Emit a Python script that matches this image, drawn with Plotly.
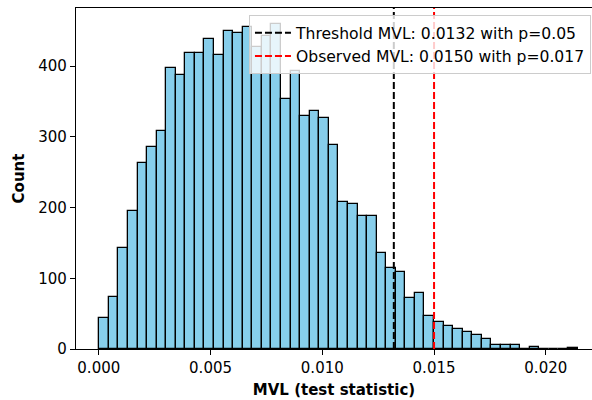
import plotly.graph_objects as go

# Histogram data (50 equal-width bins)
bin_start = 0.00002
bin_width = 0.000428
counts = [44, 73, 143, 195, 263, 285, 308, 397, 388, 418,
          418, 438, 416, 449, 446, 455, 427, 442, 459, 353,
          393, 330, 337, 327, 289, 208, 205, 188, 188, 135,
          115, 109, 72, 79, 46, 38, 33, 28, 24, 20,
          14, 5, 6, 6, 0, 3, 0, 0, 0, 2]

threshold_mvl = 0.0132
threshold_p = 0.05
observed_mvl = 0.0150
observed_p = 0.017

x_ticks = [0.000, 0.005, 0.010, 0.015, 0.020]
y_ticks = [0, 100, 200, 300, 400]

centers = [bin_start + (i + 0.5) * bin_width for i in range(len(counts))]
y_top = 482

fig = go.Figure()
fig.add_trace(go.Bar(
    x=centers, y=counts, width=bin_width,
    marker=dict(color="#87CEEB", line=dict(color="black", width=1.3)),
    showlegend=False, hoverinfo="skip",
))
fig.add_trace(go.Scatter(
    x=[threshold_mvl, threshold_mvl], y=[0, y_top], mode="lines",
    line=dict(color="black", width=2, dash="7px,3px"),
    name=f"Threshold MVL: {threshold_mvl:.4f} with p={threshold_p}",
))
fig.add_trace(go.Scatter(
    x=[observed_mvl, observed_mvl], y=[0, y_top], mode="lines",
    line=dict(color="red", width=2, dash="7px,3px"),
    name=f"Observed MVL: {observed_mvl:.4f} with p={observed_p}",
))

font_family = "DejaVu Sans"
fig.update_layout(
    width=592, height=400,
    margin=dict(l=76, r=0, t=8, b=51),
    plot_bgcolor="white", paper_bgcolor="white",
    bargap=0,
    font=dict(family=font_family, size=15, color="black"),
    legend=dict(
        x=0.998, xanchor="right", y=0.979, yanchor="top",
        bgcolor="rgba(255,255,255,0.8)", bordercolor="#cccccc", borderwidth=1,
        font=dict(family=font_family, size=15.6, color="black"),
        tracegroupgap=0, itemwidth=36,
    ),
    xaxis=dict(
        range=[-0.00102, 0.022067],
        tickvals=x_ticks, tickformat=".3f",
        ticks="outside", ticklen=5, tickwidth=1, tickcolor="black",
        showline=True, linecolor="black", linewidth=1.2, mirror=True,
        showgrid=False, zeroline=False,
        tickfont=dict(size=15),
        title=dict(text="<b>MVL (test statistic)</b>", font=dict(size=15), standoff=8),
    ),
    yaxis=dict(
        range=[0, y_top],
        tickvals=y_ticks,
        ticks="outside", ticklen=5, tickwidth=1, tickcolor="black",
        showline=True, linecolor="black", linewidth=1.2,
        showgrid=False, zeroline=False,
        tickfont=dict(size=15),
        title=dict(text="<b>Count</b>", font=dict(size=15), standoff=10),
    ),
)

fig.write_html("out.html")
